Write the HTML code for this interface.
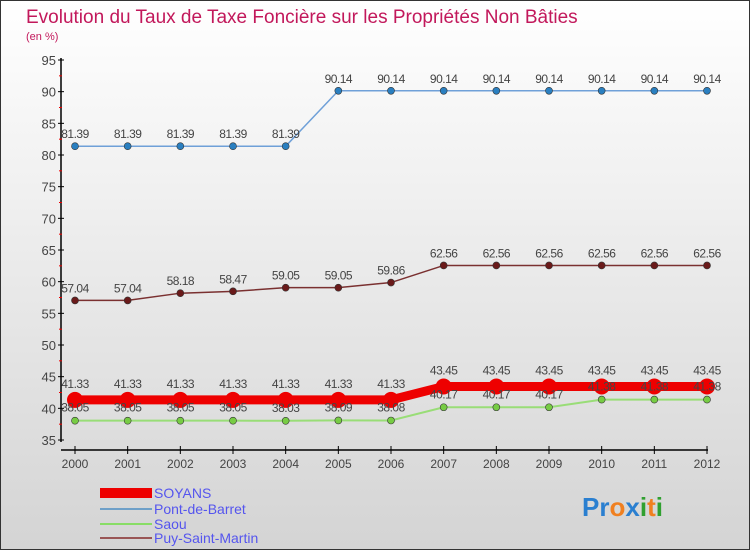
<!DOCTYPE html>
<html><head><meta charset="utf-8"><style>
body{margin:0;}
svg text{font-family:"Liberation Sans",sans-serif;}
</style></head><body>
<svg width="750" height="550" xmlns="http://www.w3.org/2000/svg">
<defs><linearGradient id="bg" x1="0" y1="0" x2="0" y2="1"><stop offset="0" stop-color="#ffffff"/><stop offset="1" stop-color="#d4d4d4"/></linearGradient></defs>
<rect x="0.5" y="0.5" width="749" height="549" fill="url(#bg)" stroke="#333"/>
<text x="26" y="23" font-size="19" fill="#c2185b">Evolution du Taux de Taxe Foncière sur les Propriétés Non Bâties</text>
<text x="26" y="40" font-size="11" fill="#c2185b">(en %)</text>
<g id="axes"></g>
<g id="series"></g>
<g id="labels"></g>
<g>
<rect x="100" y="488" width="52" height="10" fill="#e00"/>
<text x="154" y="498" font-size="14" fill="#5555ee">SOYANS</text>
<line x1="100" y1="509" x2="152" y2="509" stroke="#6fa0c8" stroke-width="2"/>
<text x="154" y="514" font-size="14" fill="#5555ee">Pont-de-Barret</text>
<line x1="100" y1="524" x2="152" y2="524" stroke="#88dd66" stroke-width="2"/>
<text x="154" y="529" font-size="14" fill="#5555ee">Saou</text>
<line x1="100" y1="538" x2="152" y2="538" stroke="#995555" stroke-width="2"/>
<text x="154" y="543" font-size="14" fill="#5555ee">Puy-Saint-Martin</text>
</g>
<text x="582" y="516" font-size="26" font-weight="bold"><tspan fill="#2a7fd0">Pr</tspan><tspan fill="#f08020">o</tspan><tspan fill="#2a7fd0">x</tspan><tspan fill="#30a030">i</tspan><tspan fill="#f08020">t</tspan><tspan fill="#30a030">i</tspan></text>
</svg>
<script>
const years=[2000,2001,2002,2003,2004,2005,2006,2007,2008,2009,2010,2011,2012];
const soyans=[41.33,41.33,41.33,41.33,41.33,41.33,41.33,43.45,43.45,43.45,43.45,43.45,43.45];
const pont=[81.39,81.39,81.39,81.39,81.39,90.14,90.14,90.14,90.14,90.14,90.14,90.14,90.14];
const saou=[38.05,38.05,38.05,38.05,38.03,38.09,38.08,40.17,40.17,40.17,41.38,41.38,41.38];
const puy=[57.04,57.04,58.18,58.47,59.05,59.05,59.86,62.56,62.56,62.56,62.56,62.56,62.56];
const yTicks=[35,40,45,50,55,60,65,70,75,80,85,90,95];
const NS="http://www.w3.org/2000/svg";
const x=i=>75+i*(707-75)/(years.length-1);
const y=v=>440-(v-35)*(380/60);
function mk(t,a,p){const e=document.createElementNS(NS,t);for(const k in a)e.setAttribute(k,a[k]);p.appendChild(e);return e;}
const ax=document.getElementById('axes');
let l=mk('line',{x1:61,y1:58,x2:61,y2:442,stroke:'#000','stroke-width':1.5},ax);


l=mk('line',{x1:61,y1:450,x2:708,y2:450,stroke:'#000','stroke-width':1.5},ax);


yTicks.forEach((t,i)=>{
 mk('line',{x1:58,y1:y(t),x2:64,y2:y(t),stroke:'#000'},ax);
 if(i<yTicks.length-1)mk('line',{x1:59,y1:y(t+2.5),x2:62,y2:y(t+2.5),stroke:'#e00'},ax);
 const tx=mk('text',{x:56,y:y(t)+5,'font-size':13,fill:'#444','text-anchor':'end'},ax);tx.textContent=t;
 
 
});
years.forEach((yr,i)=>{
 mk('line',{x1:x(i),y1:446,x2:x(i),y2:454,stroke:'#000'},ax);
 const tx=mk('text',{x:x(i),y:468,'font-size':12,fill:'#444','text-anchor':'middle'},ax);tx.textContent=yr;
 
 
});
const sg=document.getElementById('series');
const lg=document.getElementById('labels');
function draw(name,vals,color,w,r,pc){
 const g=mk('g',{},sg);
 
 
 mk('polyline',{points:vals.map((v,i)=>x(i)+','+y(v)).join(' '),fill:'none',stroke:color,'stroke-width':w},g);
 vals.forEach((v,i)=>{
  const c=mk('circle',{cx:x(i),cy:y(v),r:r,fill:pc,stroke:'#333','stroke-width':r>5?0:0.6},g);
  
  
 });
}
function labels(name,vals,off){
 vals.forEach((v,i)=>{
  const t=mk('text',{x:x(i),y:y(v)-off,'font-size':12,fill:'#444','text-anchor':'middle','letter-spacing':'-0.5'},lg);
  t.textContent=v.toFixed(2);
  
  
 });
}
draw('puy',puy,'#7a3030',1.5,3.5,'#6a1a1a');
draw('pont',pont,'#6fa0d8',1.5,3.5,'#2a7fc0');
draw('saou',saou,'#99dd77',2,3.5,'#77cc44');
draw('soyans',soyans,'#e00',9,8,'#e00');
labels('puy',puy,8);
labels('pont',pont,8);
labels('soyans',soyans,12);
labels('saou',saou,9);
</script>
</body></html>
